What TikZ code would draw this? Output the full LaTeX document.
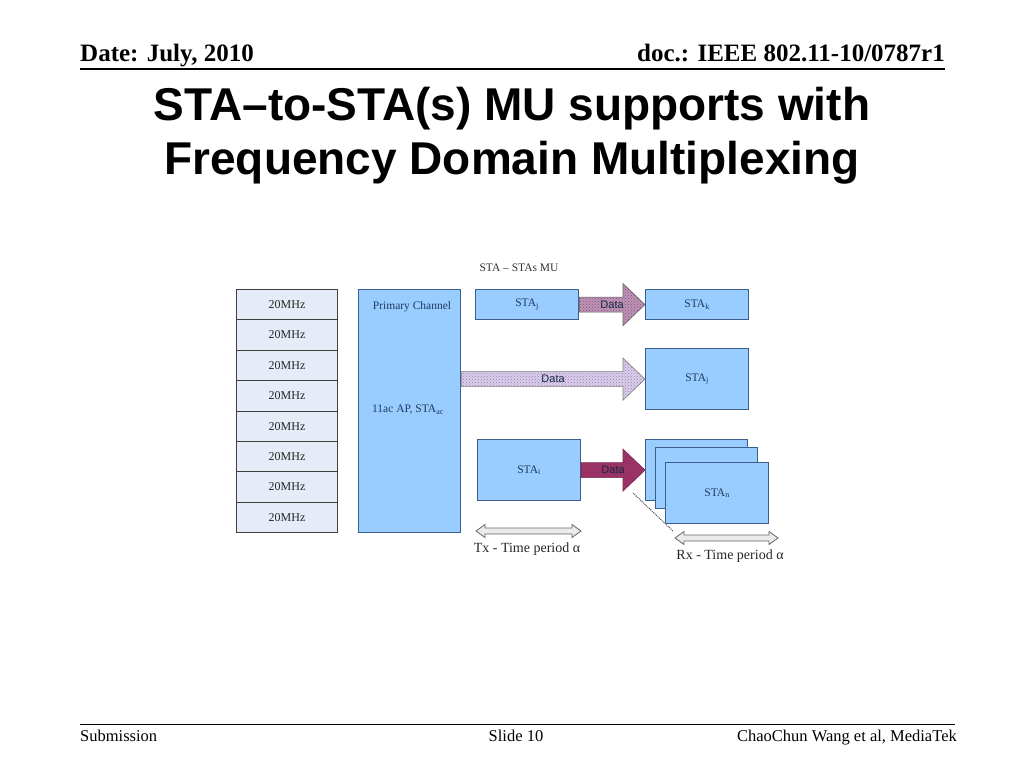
\documentclass[tikz,border=0pt]{standalone}
\usepackage{fontspec}
\setmainfont{Liberation Serif}
\newfontfamily\arialf{Liberation Sans}
\usetikzlibrary{patterns,calc}
\definecolor{boxblue}{HTML}{99CCFF}
\definecolor{boxedge}{HTML}{3A5F8A}
\definecolor{chan}{HTML}{E6ECF7}
\definecolor{navy}{HTML}{1F3A60}
\definecolor{dataA}{HTML}{BF93B8}
\definecolor{dotA}{HTML}{7E5577}
\definecolor{dataB}{HTML}{DACDEB}
\definecolor{dotB}{HTML}{9580AE}
\definecolor{dataC}{HTML}{993366}
\newcommand{\blockarr}[3]{%
  \path[#3] ($(#1)+(0,-7.5)$) -- ($(#2)+(-22,-7.5)$) -- ($(#2)+(-22,-21)$) -- (#2)
    -- ($(#2)+(-22,21)$) -- ($(#2)+(-22,7.5)$) -- ($(#1)+(0,7.5)$) -- cycle;}
\newcommand{\dblarr}[2]{%
  \path[timearrow] (#1) -- ($(#1)+(9,-6.5)$) -- ($(#1)+(9,-3)$) -- ($(#2)+(-9,-3)$)
    -- ($(#2)+(-9,-6.5)$) -- (#2) -- ($(#2)+(-9,6.5)$) -- ($(#2)+(-9,3)$)
    -- ($(#1)+(9,3)$) -- ($(#1)+(9,6.5)$) -- cycle;}
\begin{document}
\begin{tikzpicture}[x=1pt,y=-1pt,
  chanbox/.style={draw=black!75, line width=1pt, fill=chan, minimum width=101pt,
    minimum height=30.375pt, inner sep=0pt, anchor=north west,
    font=\fontsize{12}{12}\selectfont, text=black!85},
  stabox/.style={draw=boxedge, line width=1.2pt, fill=boxblue, inner sep=0pt,
    anchor=north west, text=navy, font=\fontsize{11.5}{12}\selectfont},
  boxtext/.style={text=navy, font=\fontsize{11.5}{12}\selectfont, inner sep=0pt},
  datalabel/.style={font=\arialf\fontsize{11}{11}\selectfont, text=navy!70!black, inner sep=0pt},
  arrowA/.style={draw=black!60, line width=0.6pt, pattern=crosshatch dots, pattern color=dotA,
    preaction={fill=dataA}},
  arrowB/.style={draw=black!50, line width=0.6pt, pattern=crosshatch dots, pattern color=dotB,
    preaction={fill=dataB}},
  arrowC/.style={draw=dataC!80!black, line width=0.6pt, fill=dataC},
  timearrow/.style={draw=black!60, line width=0.8pt, fill=black!8},
  caption/.style={font=\fontsize{14}{14}\selectfont, inner sep=0pt, text=black!85},
  hdr/.style={font=\bfseries\fontsize{25}{25}\selectfont, inner sep=0pt},
  ftr/.style={font=\fontsize{16.5}{16.5}\selectfont, inner sep=0pt},
  ttl/.style={font=\arialf\bfseries\fontsize{46}{46}\selectfont, inner sep=0pt, anchor=base}
]
\useasboundingbox[fill=white] (0,0) rectangle (1024,768);

% header
\node[hdr, anchor=base west] (date) at (80,62) {Date: July, 2010};
\node[hdr, anchor=base east] (doc) at (945,62) {doc.: IEEE 802.11-10/0787r1};
\coordinate (hl1) at (80,68.5);
\coordinate (hl2) at (945,68.5);
\draw[line width=2pt] (hl1) -- (hl2);

% title
\node[ttl] (t1) at (512,120) {STA–to-STA(s) MU supports with};
\node[ttl] (t2) at (512,174) {Frequency Domain Multiplexing};

% footer
\coordinate (fl1) at (80,724.5);
\coordinate (fl2) at (955,724.5);
\draw[line width=1.5pt] (fl1) -- (fl2);
\node[ftr, anchor=base west] (sub) at (80,741) {Submission};
\node[ftr, anchor=base] (slide) at (516,741) {Slide 10};
\node[ftr, anchor=base east] (auth) at (957,741) {ChaoChun Wang et al, MediaTek};

% channels
\foreach \i in {0,...,7} \node[chanbox] (ch\i) at (236,289+\i*30.375) {20MHz};

% AP box
\node[stabox, minimum width=102pt, minimum height=243pt] (ap) at (358,289) {};
\node[boxtext] (pc) at (412,307) {Primary Channel};
\node[boxtext] (apl) at (408,410) {11ac AP, STA\textsubscript{ac}};

% label
\node[font=\fontsize{11.5}{12}\selectfont, inner sep=0pt, text=black!80] (mu) at (519,268) {STA – STAs MU};

% top row
\node[stabox, minimum width=103pt, minimum height=30pt] (sj) at (475,289) {STA\textsubscript{j}};
\node[stabox, minimum width=103pt, minimum height=30pt] (sk) at (645,289) {STA\textsubscript{k}};
\blockarr{sj.east}{sk.west}{arrowA}
\node[datalabel] (d1) at ($(sj.east)!0.5!(sk.west)$) {Data};

% middle row
\node[stabox, minimum width=103pt, minimum height=61pt] (sjm) at (645,348) {STA\textsubscript{j}};
\coordinate (mstart) at (ap.east |- sjm.west);
\blockarr{mstart}{sjm.west}{arrowB}
\node[datalabel] (d2) at ($(mstart)!0.5!(sjm.west)$) {Data};

% bottom row
\node[stabox, minimum width=103pt, minimum height=61pt] (si) at (477,439) {STA\textsubscript{i}};
\coordinate (dl1) at (633,493);
\coordinate (dl2) at (673,531);
\draw[densely dotted, line width=1pt, black!70] (dl1) -- (dl2);
\node[stabox, minimum width=102pt, minimum height=61pt] (s1) at (645,439) {};
\node[stabox, minimum width=102pt, minimum height=61pt] (s2) at (655,447) {};
\node[stabox, minimum width=103pt, minimum height=61pt] (s3) at (665,462) {STA\textsubscript{n}};
\blockarr{si.east}{s1.west}{arrowC}
\node[datalabel] (d3) at ($(si.east)!0.5!(s1.west)$) {Data};

% time periods
\coordinate (tx1) at (476,531);
\coordinate (tx2) at (581,531);
\dblarr{tx1}{tx2}
\node[caption] (txl) at (527,549) {Tx - Time period α};
\coordinate (rx1) at (675,538);
\coordinate (rx2) at (778,538);
\dblarr{rx1}{rx2}
\node[caption] (rxl) at (730,556) {Rx - Time period α};
\end{tikzpicture}
\end{document}
